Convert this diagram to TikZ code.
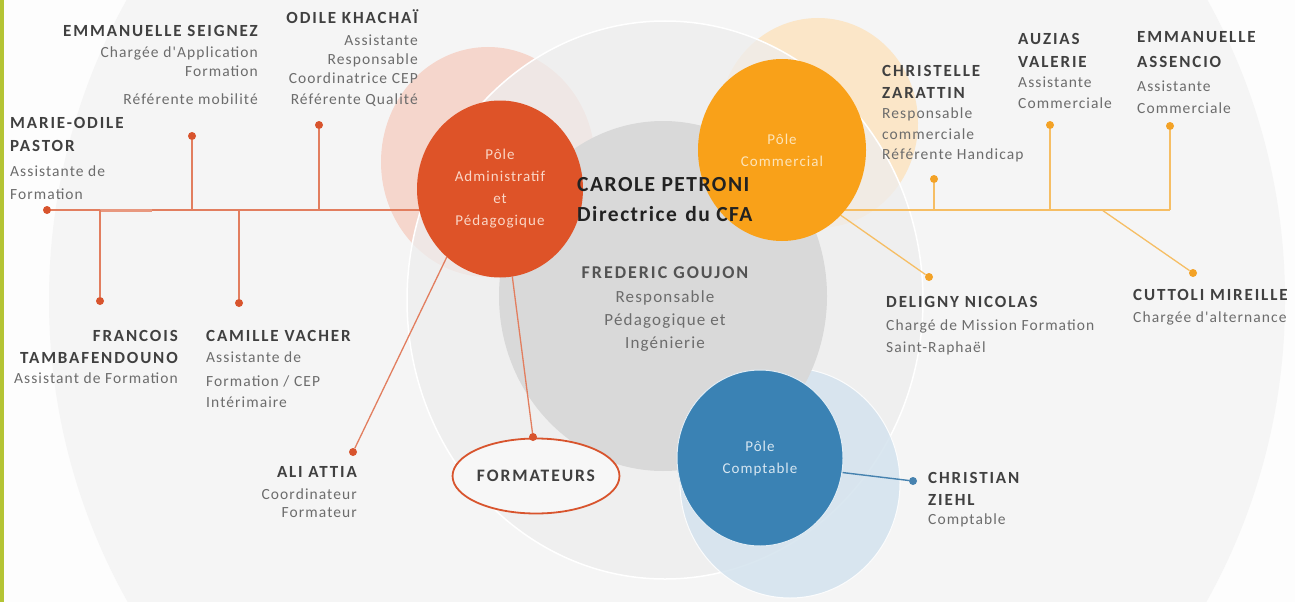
\documentclass[tikz,border=0pt]{standalone}
\usepackage{fontspec}
\setmainfont{Carlito}
\newfontfamily\nmfont[LetterSpace=11]{Carlito}
\newfontfamily\rlfont[LetterSpace=7]{Carlito}
\newfontfamily\bigfont[LetterSpace=7]{Carlito}
\usetikzlibrary{shapes.geometric,calc}
\pgfdeclarelayer{bg}
\pgfsetlayers{bg,main}
\definecolor{pageBg}{RGB}{253,253,253}
\definecolor{hugeC}{RGB}{245,245,245}
\definecolor{lightC}{RGB}{238,238,238}
\definecolor{greyC}{RGB}{217,217,217}
\definecolor{pinkC}{RGB}{245,214,204}
\definecolor{peachC}{RGB}{251,230,200}
\definecolor{lblueC}{RGB}{212,227,238}
\definecolor{admC}{RGB}{222,83,40}
\definecolor{comC}{RGB}{249,161,25}
\definecolor{cptC}{RGB}{58,130,180}
\definecolor{admT}{RGB}{250,214,198}
\definecolor{comT}{RGB}{253,228,185}
\definecolor{cptT}{RGB}{214,230,241}
\definecolor{admLine}{RGB}{226,126,95}
\definecolor{admDot}{RGB}{216,84,45}
\definecolor{comLine}{RGB}{246,190,100}
\definecolor{comDot}{RGB}{243,162,38}
\definecolor{cptLine}{RGB}{70,130,175}
\definecolor{nameC}{RGB}{64,64,64}
\definecolor{roleC}{RGB}{108,108,108}
\definecolor{bossC}{RGB}{34,34,34}
\definecolor{barC}{RGB}{180,196,52}
\tikzset{
  nm/.style={font=\nmfont\bfseries\fontsize{17}{20}\selectfont, text=nameC, inner sep=0pt},
  rl/.style={font=\rlfont\fontsize{15.5}{18}\selectfont, text=roleC, inner sep=0pt},
  boss/.style={font=\bigfont\bfseries\fontsize{21.5}{25}\selectfont, text=bossC, inner sep=0pt},
  pole/.style={ellipse, inner sep=0pt, align=center, font=\rlfont\fontsize{15}{22}\selectfont},
  dotA/.style={circle, inner sep=0pt, minimum size=8pt, fill=admDot},
  dotC/.style={circle, inner sep=0pt, minimum size=8pt, fill=comDot},
  dotB/.style={circle, inner sep=0pt, minimum size=8pt, fill=cptLine},
  aline/.style={draw=admLine, line width=1.6pt},
  cline/.style={draw=comLine, line width=1.6pt},
  bline/.style={draw=cptLine, line width=1.4pt},
}
\begin{document}
\begin{tikzpicture}[x=1pt,y=-1pt]
\useasboundingbox (0,0) rectangle (1295,602);
% pole circles
\node[pole, fill=admC, text=admT, minimum width=166pt, minimum height=177pt] (adm) at (500,189) {Pôle\\Administratif\\et\\Pédagogique};
\node[pole, fill=comC, text=comT, minimum width=168pt, minimum height=182pt] (com) at (782,150) {Pôle\\Commercial};
\node[pole, fill=cptC, text=cptT, draw=white!85!cptC, line width=1pt, minimum width=166pt, minimum height=176pt] (cpt) at (760,458) {Pôle\\Comptable};
\node[ellipse, draw=admDot, line width=1.8pt, fill=white!97!black, minimum width=150pt, minimum height=75pt, inner sep=0pt, font=\nmfont\bfseries\fontsize{17.5}{20}\selectfont, text=nameC] (form) at (536,476) {FORMATEURS};
% dots
\node[dotA] (dotM) at (47,210) {};
\node[dotA] (dotS) at (192,136) {};
\node[dotA] (dotK) at (319,125) {};
\node[dotA] (dotFr) at (100,301) {};
\node[dotA] (dotCV) at (239,303) {};
\node[dotA] (dotAli) at (353,452) {};
\node[dotA] (dotFo) at (533,437) {};
\node[dotC] (dotCZ) at (934,179) {};
\node[dotC] (dotAV) at (1050,125) {};
\node[dotC] (dotEA) at (1170,126) {};
\node[dotC] (dotDN) at (929,277) {};
\node[dotC] (dotCM) at (1193,273) {};
\node[dotB] (dotCH) at (913,481) {};
\coordinate (rtEnd) at (1170,210);
\coordinate (cmJ) at (1102,210);
% background and connectors
\begin{pgfonlayer}{bg}
\fill[pageBg] (0,0) rectangle (1295,602);
\fill[hugeC] (667,300) ellipse [x radius=618, y radius=618];
\fill[pinkC] (488,162) ellipse [x radius=107, y radius=115];
\fill[peachC] (818,123) ellipse [x radius=100, y radius=105];
\fill[lightC, fill opacity=0.75, draw=white, line width=1.5pt] (665,300) ellipse [x radius=258, y radius=279];
\fill[lblueC, opacity=0.85, draw=white, line width=1pt] (790,483) ellipse [x radius=110, y radius=115];
\fill[greyC] (663,296) ellipse [x radius=164, y radius=175];
\fill[barC] (0,0) rectangle (3.5,602);
% left trunk
\draw[aline] (dotM) -- (adm.center |- dotM);
\draw[admLine!80!white, line width=3pt] (dotFr |- dotM) -- ($(dotFr |- dotM)+(52,0)$);
\draw[aline] (dotS) -- (dotS |- dotM);
\draw[aline] (dotK) -- (dotK |- dotM);
\draw[aline] (dotFr) -- (dotFr |- dotM);
\draw[aline] (dotCV) -- (dotCV |- dotM);
\draw[aline, line width=1.3pt] (adm.232) -- (dotAli);
\draw[aline, line width=1.3pt] (adm.-82) -- (dotFo);
% right trunk
\draw[cline] (com.center |- rtEnd) -- (rtEnd);
\draw[cline] (dotCZ) -- (dotCZ |- rtEnd);
\draw[cline] (dotAV) -- (dotAV |- rtEnd);
\draw[cline] (dotEA) -- (rtEnd);
\draw[cline, line width=1.3pt] (com.-48) -- (dotDN);
\draw[cline, line width=1.3pt] (cmJ) -- (dotCM);
% comptable
\draw[bline] (cpt.-10) -- (dotCH);
\end{pgfonlayer}
% texts left
\node[nm,anchor=base east] (sg1) at (258,37) {EMMANUELLE SEIGNEZ};
\node[rl,anchor=base east] (sg2) at (258,57) {Chargée d'Application};
\node[rl,anchor=base east] (sg3) at (258,76) {Formation};
\node[rl,anchor=base east] (sg4) at (258,104) {Référente mobilité};
\node[nm,anchor=base east] (kh1) at (418,24) {ODILE KHACHAÏ};
\node[rl,anchor=base east] (kh2) at (418,46) {Assistante};
\node[rl,anchor=base east] (kh3) at (418,65) {Responsable};
\node[rl,anchor=base east] (kh4) at (418,84) {Coordinatrice CEP};
\node[rl,anchor=base east] (kh5) at (418,104) {Référente Qualité};
\node[nm,anchor=base west] (mo1) at (10,128) {MARIE-ODILE};
\node[nm,anchor=base west] (mo2) at (10,151) {PASTOR};
\node[rl,anchor=base west] (mo3) at (10,176) {Assistante de};
\node[rl,anchor=base west] (mo4) at (10,199) {Formation};
\node[nm,anchor=base east] (fr1) at (178,341) {FRANCOIS};
\node[nm,anchor=base east] (fr2) at (178,363) {TAMBAFENDOUNO};
\node[rl,anchor=base east] (fr3) at (178,383) {Assistant de Formation};
\node[nm,anchor=base west] (cv1) at (206,341) {CAMILLE VACHER};
\node[rl,anchor=base west] (cv2) at (206,362) {Assistante de};
\node[rl,anchor=base west] (cv3) at (206,386) {Formation / CEP};
\node[rl,anchor=base west] (cv4) at (206,407) {Intérimaire};
\node[nm,anchor=base east] (aa1) at (357,477) {ALI ATTIA};
\node[rl,anchor=base east] (aa2) at (357,499) {Coordinateur};
\node[rl,anchor=base east] (aa3) at (357,517) {Formateur};
% center
\node[boss,anchor=base west] (cp1) at (577,191) {CAROLE PETRONI};
\node[boss,anchor=base west] (cp2) at (577,221) {Directrice\hspace{2pt} du CFA};
\node[nm,anchor=base,font=\nmfont\bfseries\fontsize{18}{21}\selectfont,text=nameC!90!white] (fg1) at (665,278) {FREDERIC GOUJON};
\node[rl,anchor=base,font=\rlfont\fontsize{17}{20}\selectfont] (fg2) at (665,302) {Responsable};
\node[rl,anchor=base,font=\rlfont\fontsize{17}{20}\selectfont] (fg3) at (665,325) {Pédagogique et};
\node[rl,anchor=base,font=\rlfont\fontsize{17}{20}\selectfont] (fg4) at (665,348) {Ingénierie};
% right
\node[nm,anchor=base west] (cz1) at (882,77) {CHRISTELLE};
\node[nm,anchor=base west] (cz2) at (882,98) {ZARATTIN};
\node[rl,anchor=base west] (cz3) at (882,118) {Responsable};
\node[rl,anchor=base west] (cz4) at (882,139) {commerciale};
\node[rl,anchor=base west] (cz5) at (882,159) {Référente Handicap};
\node[nm,anchor=base west] (av1) at (1018,45) {AUZIAS};
\node[nm,anchor=base west] (av2) at (1018,67) {VALERIE};
\node[rl,anchor=base west] (av3) at (1018,87) {Assistante};
\node[rl,anchor=base west] (av4) at (1018,108) {Commerciale};
\node[nm,anchor=base west] (ea1) at (1137,43) {EMMANUELLE};
\node[nm,anchor=base west] (ea2) at (1137,67) {ASSENCIO};
\node[rl,anchor=base west] (ea3) at (1137,91) {Assistante};
\node[rl,anchor=base west] (ea4) at (1137,113) {Commerciale};
\node[nm,anchor=base west] (dn1) at (886,307) {DELIGNY NICOLAS};
\node[rl,anchor=base west] (dn2) at (886,330) {Chargé de Mission Formation};
\node[rl,anchor=base west] (dn3) at (886,352) {Saint-Raphaël};
\node[nm,anchor=base west] (cm1) at (1133,300) {CUTTOLI MIREILLE};
\node[rl,anchor=base west] (cm2) at (1133,322) {Chargée d'alternance};
\node[nm,anchor=base west] (ch1) at (928,483) {CHRISTIAN};
\node[nm,anchor=base west] (ch2) at (928,505) {ZIEHL};
\node[rl,anchor=base west] (ch3) at (928,524) {Comptable};
\end{tikzpicture}
\end{document}
